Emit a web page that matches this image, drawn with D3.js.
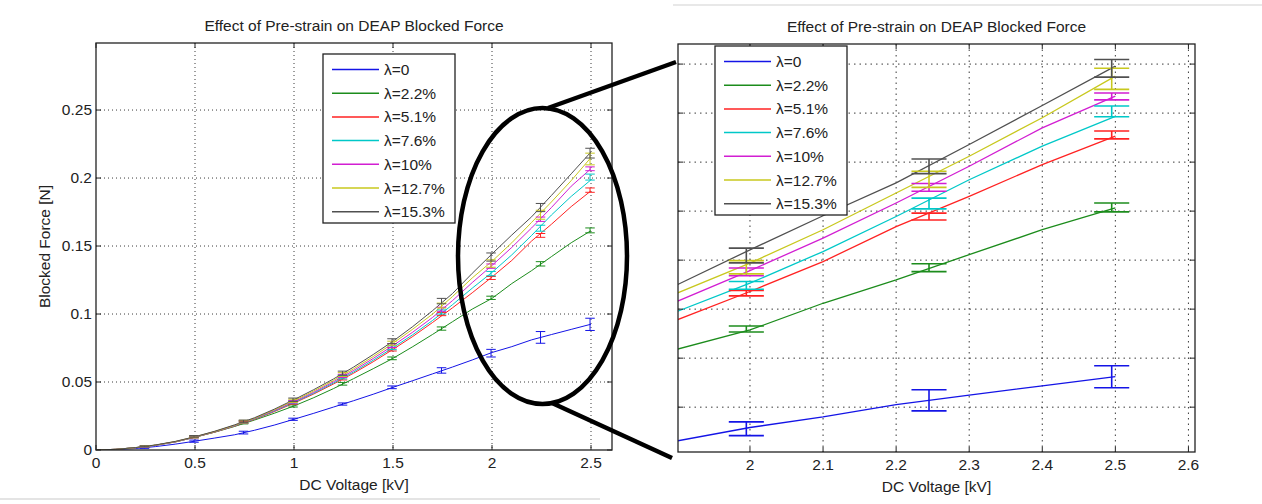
<!DOCTYPE html>
<html>
<head>
<meta charset="utf-8">
<script src="https://cdn.jsdelivr.net/npm/d3@7"></script>
<style>
    body { margin: 0; background: #fff; }
    svg { display: block; font-family: "Liberation Sans", Arial, sans-serif; }
</style>
</head>
<body>
<svg id="chart" width="1262" height="504"></svg>
<script>
// Blocked force against DC voltage for each pre-strain, full range + zoomed view

const seriesLabels = ['λ=0', 'λ=2.2%', 'λ=5.1%', 'λ=7.6%', 'λ=10%', 'λ=12.7%', 'λ=15.3%'];
const seriesColors = ['#1414e6', '#1c8c1c', '#ff2222', '#00c8c8', '#d21ed2', '#c8c81e', '#505050'];

// voltages where the curves are drawn [kV]
const lineVoltage = [0, 0.1, 0.2, 0.3, 0.4, 0.5, 0.6, 0.7, 0.8, 0.9, 1.0, 1.1, 1.2,
    1.3, 1.4, 1.5, 1.6, 1.7, 1.8, 1.9, 2.0, 2.1, 2.2, 2.3, 2.4, 2.5];

// curve values [N]
const line0   = [0, 0.0003, 0.0011, 0.0025, 0.0043, 0.0065, 0.0088, 0.0112, 0.0145, 0.0183, 0.0226, 0.0270, 0.0316,
    0.0362, 0.0410, 0.0461, 0.0510, 0.0560, 0.0610, 0.0662, 0.0717, 0.0760, 0.0810, 0.0849, 0.0887, 0.0925];
const line22  = [0, 0.0005, 0.0017, 0.0035, 0.0059, 0.0094, 0.0131, 0.0173, 0.0220, 0.0270, 0.0324, 0.0385, 0.0452,
    0.0524, 0.0598, 0.0674, 0.0760, 0.0850, 0.0943, 0.1036, 0.1115, 0.1224, 0.1319, 0.1422, 0.1524, 0.1613];
const line51  = [0, 0.0005, 0.0017, 0.0035, 0.0059, 0.0094, 0.0132, 0.0176, 0.0225, 0.0282, 0.0345, 0.0412, 0.0486,
    0.0564, 0.0649, 0.0740, 0.0835, 0.0938, 0.1045, 0.1156, 0.1272, 0.1394, 0.1537, 0.1660, 0.1790, 0.1906];
const line76  = [0, 0.0005, 0.0017, 0.0035, 0.0060, 0.0095, 0.0134, 0.0178, 0.0228, 0.0286, 0.0350, 0.0418, 0.0493,
    0.0573, 0.0660, 0.0752, 0.0848, 0.0953, 0.1068, 0.1190, 0.1306, 0.1435, 0.1578, 0.1728, 0.1865, 0.1987];
const line10  = [0, 0.0005, 0.0017, 0.0035, 0.0061, 0.0096, 0.0135, 0.0180, 0.0231, 0.0290, 0.0355, 0.0425, 0.0502,
    0.0584, 0.0673, 0.0768, 0.0867, 0.0975, 0.1098, 0.1231, 0.1357, 0.1490, 0.1633, 0.1783, 0.1940, 0.2069];
const line127 = [0, 0.0005, 0.0017, 0.0036, 0.0062, 0.0097, 0.0136, 0.0182, 0.0233, 0.0295, 0.0362, 0.0434, 0.0512,
    0.0596, 0.0687, 0.0785, 0.0889, 0.1000, 0.1128, 0.1265, 0.1388, 0.1524, 0.1674, 0.1824, 0.1981, 0.2151];
const line153 = [0, 0.0005, 0.0018, 0.0037, 0.0063, 0.0098, 0.0138, 0.0185, 0.0237, 0.0300, 0.0370, 0.0444, 0.0523,
    0.0609, 0.0702, 0.0800, 0.0908, 0.1025, 0.1150, 0.1299, 0.1442, 0.1581, 0.1715, 0.1872, 0.2031, 0.2192];

// measured points (mean +/- error)
const barVoltage = [0, 0.245, 0.495, 0.745, 0.995, 1.245, 1.495, 1.745, 1.995, 2.245, 2.495];

const mean0   = [0, 0.0015, 0.0065, 0.0128, 0.0226, 0.0338, 0.0461, 0.0585, 0.0712, 0.0828, 0.0924];
const mean22  = [0, 0.0025, 0.0095, 0.0200, 0.0324, 0.0487, 0.0674, 0.0893, 0.1119, 0.1369, 0.1615];
const mean51  = [0, 0.0025, 0.0095, 0.0203, 0.0345, 0.0525, 0.0740, 0.1000, 0.1265, 0.1578, 0.1911];
const mean76  = [0, 0.0026, 0.0097, 0.0205, 0.0350, 0.0535, 0.0752, 0.1015, 0.1297, 0.1631, 0.2007];
const mean10  = [0, 0.0026, 0.0098, 0.0207, 0.0355, 0.0545, 0.0768, 0.1035, 0.1352, 0.1697, 0.2068];
const mean127 = [0, 0.0027, 0.0099, 0.0208, 0.0362, 0.0555, 0.0785, 0.1062, 0.1371, 0.1730, 0.2140];
const mean153 = [0, 0.0027, 0.0100, 0.0210, 0.0370, 0.0565, 0.0800, 0.1095, 0.1419, 0.1783, 0.2183];

const err0   = [0, 0.0003, 0.0008, 0.0010, 0.0008, 0.0008, 0.0010, 0.0020, 0.0028, 0.0043, 0.0045];
const err22  = [0, 0.0003, 0.0005, 0.0008, 0.0008, 0.0010, 0.0010, 0.0012, 0.0012, 0.0016, 0.0018];
const err51  = [0, 0.0003, 0.0006, 0.0008, 0.0010, 0.0010, 0.0012, 0.0012, 0.0011, 0.0014, 0.0016];
const err76  = [0, 0.0003, 0.0006, 0.0010, 0.0010, 0.0012, 0.0014, 0.0015, 0.0016, 0.0022, 0.0022];
const err10  = [0, 0.0003, 0.0006, 0.0010, 0.0010, 0.0012, 0.0014, 0.0015, 0.0016, 0.0016, 0.0014];
const err127 = [0, 0.0003, 0.0006, 0.0010, 0.0012, 0.0014, 0.0015, 0.0018, 0.0027, 0.0033, 0.0043];
const err153 = [0, 0.0003, 0.0006, 0.0010, 0.0012, 0.0015, 0.0018, 0.0020, 0.0030, 0.0030, 0.0036];

// axis ticks
const fullXTicks = [0, 0.5, 1, 1.5, 2, 2.5];
const fullYTicks = [0, 0.05, 0.1, 0.15, 0.2, 0.25];
const zoomXTicks = [2, 2.1, 2.2, 2.3, 2.4, 2.5, 2.6];
const zoomYTicks = [0.08, 0.1, 0.12, 0.14, 0.16, 0.18, 0.2, 0.22];

const titleText = 'Effect of Pre-strain on DEAP Blocked Force';
const xLabelText = 'DC Voltage [kV]';
const yLabelText = 'Blocked Force [N]';

const lines = [line0, line22, line51, line76, line10, line127, line153];
const means = [mean0, mean22, mean51, mean76, mean10, mean127, mean153];
const errs = [err0, err22, err51, err76, err10, err127, err153];

const series = seriesLabels.map((label, i) => ({
    label: label,
    color: seriesColors[i],
    line: lineVoltage.map((v, j) => ({x: v, y: lines[i][j]})),
    bars: barVoltage.map((v, j) => ({x: v, y: means[i][j], e: errs[i][j]}))
}));

const svg = d3.select('#chart');
const fontSize = 15.5;
const capHalf = 0.024; // half width of error bar caps, in kV

// faint edges left over from the two screenshots
svg.append('line').attr('x1', 0).attr('x2', 600).attr('y1', 499).attr('y2', 499)
    .attr('stroke', '#e4e4e4').attr('stroke-width', 2);
svg.append('line').attr('x1', 673).attr('x2', 1262).attr('y1', 5).attr('y2', 5)
    .attr('stroke', '#e8e8e8').attr('stroke-width', 2);

function drawPanel(opt) {

    const x = d3.scaleLinear().domain(opt.xDomain).range([opt.left, opt.right]);
    const y = d3.scaleLinear().domain(opt.yDomain).range([opt.bottom, opt.top]);
    const g = svg.append('g');

    const clipId = 'clip' + opt.id;
    g.append('clipPath').attr('id', clipId)
        .append('rect')
        .attr('x', opt.left).attr('y', opt.top)
        .attr('width', opt.right - opt.left).attr('height', opt.bottom - opt.top);

    // grid
    const grid = g.append('g')
        .attr('stroke', '#3a3a3a')
        .attr('stroke-width', 1)
        .attr('stroke-dasharray', opt.dash);

    grid.selectAll('.gx')
        .data(opt.xTicks.filter(t => x(t) > opt.left + 1 && x(t) < opt.right - 1))
        .join('line')
        .attr('x1', d => x(d)).attr('x2', d => x(d))
        .attr('y1', opt.top).attr('y2', opt.bottom);

    grid.selectAll('.gy')
        .data(opt.yTicks.filter(t => y(t) > opt.top + 1 && y(t) < opt.bottom - 1))
        .join('line')
        .attr('y1', d => y(d)).attr('y2', d => y(d))
        .attr('x1', opt.left).attr('x2', opt.right);

    // curves
    const lineGen = d3.line().x(d => x(d.x)).y(d => y(d.y));
    const plot = g.append('g').attr('clip-path', `url(#${clipId})`);

    plot.selectAll('.curve')
        .data(series)
        .join('path')
        .attr('fill', 'none')
        .attr('stroke', d => d.color)
        .attr('stroke-width', opt.lineWidth)
        .attr('d', d => lineGen(d.line));

    // error bars
    const barGroups = plot.selectAll('.bars')
        .data(series)
        .join('g')
        .attr('stroke', d => d.color)
        .attr('stroke-width', opt.barWidth);

    barGroups.each(function (s) {
        const b = d3.select(this);
        const pts = s.bars.filter(p => p.e > 0);
        b.selectAll('.v').data(pts).join('line')
            .attr('x1', d => x(d.x)).attr('x2', d => x(d.x))
            .attr('y1', d => y(d.y - d.e)).attr('y2', d => y(d.y + d.e));
        b.selectAll('.ct').data(pts).join('line')
            .attr('x1', d => x(d.x - capHalf)).attr('x2', d => x(d.x + capHalf))
            .attr('y1', d => y(d.y + d.e)).attr('y2', d => y(d.y + d.e));
        b.selectAll('.cb').data(pts).join('line')
            .attr('x1', d => x(d.x - capHalf)).attr('x2', d => x(d.x + capHalf))
            .attr('y1', d => y(d.y - d.e)).attr('y2', d => y(d.y - d.e));
    });

    // frame and inner ticks
    g.append('rect')
        .attr('x', opt.left).attr('y', opt.top)
        .attr('width', opt.right - opt.left).attr('height', opt.bottom - opt.top)
        .attr('fill', 'none').attr('stroke', '#222').attr('stroke-width', 1.3);

    const tickLen = 5;
    const ticks = g.append('g').attr('stroke', '#222').attr('stroke-width', 1);
    opt.xTicks.forEach(t => {
        ticks.append('line').attr('x1', x(t)).attr('x2', x(t)).attr('y1', opt.bottom).attr('y2', opt.bottom - tickLen);
        ticks.append('line').attr('x1', x(t)).attr('x2', x(t)).attr('y1', opt.top).attr('y2', opt.top + tickLen);
    });
    opt.yTicks.forEach(t => {
        ticks.append('line').attr('y1', y(t)).attr('y2', y(t)).attr('x1', opt.left).attr('x2', opt.left + tickLen);
        ticks.append('line').attr('y1', y(t)).attr('y2', y(t)).attr('x1', opt.right).attr('x2', opt.right - tickLen);
    });

    // tick labels
    g.selectAll('.xl')
        .data(opt.xTicks)
        .join('text')
        .attr('x', d => x(d))
        .attr('y', opt.bottom + 18)
        .attr('text-anchor', 'middle')
        .attr('font-size', fontSize)
        .attr('fill', '#222')
        .text(d => d3.format('~g')(d));

    if (opt.yLabels) {
        g.selectAll('.yl')
            .data(opt.yTicks)
            .join('text')
            .attr('x', opt.left - 4)
            .attr('y', d => y(d) + 5)
            .attr('text-anchor', 'end')
            .attr('font-size', fontSize)
            .attr('fill', '#222')
            .text(d => d3.format('~g')(d));

        g.append('text')
            .attr('transform', `translate(${opt.left - 46},${(opt.top + opt.bottom) / 2}) rotate(-90)`)
            .attr('text-anchor', 'middle')
            .attr('font-size', fontSize)
            .attr('fill', '#222')
            .text(yLabelText);
    }

    // titles
    const cx = (opt.left + opt.right) / 2;
    g.append('text')
        .attr('x', cx).attr('y', opt.bottom + 40)
        .attr('text-anchor', 'middle').attr('font-size', fontSize).attr('fill', '#222')
        .text(xLabelText);
    g.append('text')
        .attr('x', cx).attr('y', opt.top - 12)
        .attr('text-anchor', 'middle').attr('font-size', fontSize).attr('fill', '#222')
        .text(titleText);

    // legend
    const lg = opt.legend;
    const legend = g.append('g');
    legend.append('rect')
        .attr('x', lg.x).attr('y', lg.y).attr('width', 132).attr('height', 169)
        .attr('fill', '#fff').attr('stroke', '#222').attr('stroke-width', 1.3);
    const items = legend.selectAll('.item')
        .data(series)
        .join('g')
        .attr('transform', (d, i) => `translate(${lg.x},${lg.y + 15.5 + i * 23.7})`);
    items.append('line')
        .attr('x1', 9).attr('x2', 56).attr('y1', 0).attr('y2', 0)
        .attr('stroke', d => d.color).attr('stroke-width', 1.5);
    items.append('text')
        .attr('x', 61).attr('y', 5.5)
        .attr('font-size', fontSize).attr('fill', '#222')
        .text(d => d.label);
}

// full range view
drawPanel({
    id: 'full',
    left: 96, right: 612, top: 43, bottom: 450,
    xDomain: [0, 2.606], yDomain: [0, 0.2993],
    xTicks: fullXTicks, yTicks: fullYTicks, yLabels: true,
    dash: '1,3', lineWidth: 1, barWidth: 1,
    legend: {x: 323, y: 54}
});

// zoomed view of 1.9 - 2.6 kV
drawPanel({
    id: 'zoom',
    left: 678, right: 1195, top: 44, bottom: 452,
    xDomain: [1.9015, 2.609], yDomain: [0.0617, 0.2282],
    xTicks: zoomXTicks, yTicks: zoomYTicks, yLabels: false,
    dash: '1.5,4', lineWidth: 1.3, barWidth: 1.6,
    legend: {x: 715, y: 46}
});

// ellipse round the zoomed region and the two connecting strokes
const marks = svg.append('g').attr('stroke', '#000').attr('stroke-width', 4.5).attr('fill', 'none');
marks.append('ellipse').attr('cx', 542.5).attr('cy', 256).attr('rx', 84.5).attr('ry', 148);
marks.append('line').attr('x1', 548).attr('y1', 108).attr('x2', 676).attr('y2', 62);
marks.append('line').attr('x1', 552).attr('y1', 403).attr('x2', 672).attr('y2', 458);

</script>
</body>
</html>
